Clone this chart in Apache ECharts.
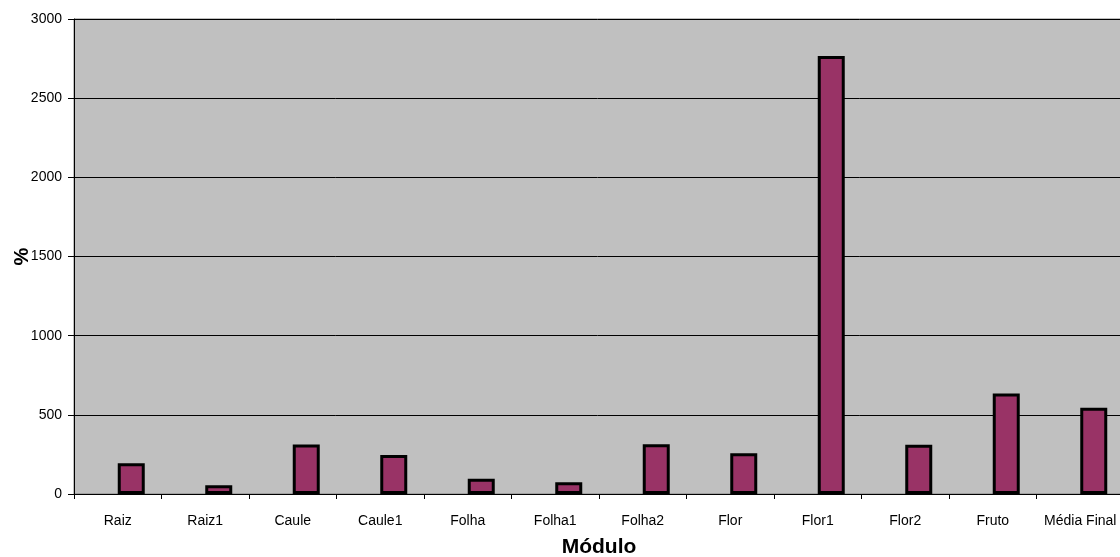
<!DOCTYPE html>
<html>
<head>
<meta charset="utf-8">
<script src="https://cdn.jsdelivr.net/npm/echarts@6/dist/echarts.min.js"></script>
<style>
  html, body { margin: 0; padding: 0; background: #ffffff; overflow: hidden; }
  #chart { width: 1120px; height: 557px; }
</style>
</head>
<body>
<div id="chart"></div>
<script>
// Módulos avaliados (eixo das categorias)
const categories = ['Raiz', 'Raiz1', 'Caule', 'Caule1', 'Folha', 'Folha1', 'Folha2', 'Flor', 'Flor1', 'Flor2', 'Fruto', 'Média Final'];
// Percentual por módulo
const percentValues = [195, 56, 313, 246, 96, 74, 315, 258, 2766, 311, 634, 545];
// Primeira coluna do agrupamento, sem valores
const blankValues = categories.map(() => null);
// Marcas do eixo Y
const yTicks = [0, 500, 1000, 1500, 2000, 2500, 3000];

const chart = echarts.init(document.getElementById('chart'), null, { renderer: 'canvas' });
const font = 'Liberation Sans, Arial, sans-serif';

chart.setOption({
  animation: false,
  backgroundColor: '#ffffff',
  grid: {
    left: 74,
    top: 19,
    height: 475,
    width: 1050,
    outerBoundsMode: 'none',
    containLabel: false,
    show: true,
    backgroundColor: '#c0c0c0',
    borderColor: '#808080',
    borderWidth: 1
  },
  xAxis: {
    type: 'category',
    data: categories,
    boundaryGap: true,
    name: 'Módulo',
    nameLocation: 'middle',
    nameGap: 43,
    nameMoveOverlap: false,
    nameTextStyle: { fontFamily: font, fontSize: 21, fontWeight: 'bold', color: '#000' },
    axisLine: { lineStyle: { color: '#000', width: 1 } },
    axisTick: { show: true, alignWithLabel: false, length: 5, lineStyle: { color: '#000' } },
    axisLabel: { fontFamily: font, fontSize: 14, color: '#000', margin: 20, interval: 0 },
    splitLine: { show: false }
  },
  yAxis: {
    type: 'value',
    min: yTicks[0],
    max: yTicks[yTicks.length - 1],
    interval: 500,
    name: '%',
    nameLocation: 'middle',
    nameGap: 42,
    nameMoveOverlap: false,
    nameRotate: 90,
    nameTextStyle: { fontFamily: font, fontSize: 20, fontWeight: 'bold', color: '#000' },
    axisLine: { show: true, lineStyle: { color: '#000', width: 1 } },
    axisTick: { show: true, length: 6, lineStyle: { color: '#000' } },
    axisLabel: { fontFamily: font, fontSize: 14, color: '#000', margin: 12, formatter: (v) => String(v) },
    splitLine: { show: true, lineStyle: { color: '#000', width: 1 } }
  },
  series: [
    {
      name: 'vazio',
      type: 'bar',
      data: blankValues,
      barWidth: 27,
      barGap: '0%',
      silent: true
    },
    {
      name: '%',
      type: 'bar',
      data: percentValues,
      barWidth: 27,
      barGap: '0%',
      itemStyle: { color: '#993366', borderColor: '#000000', borderWidth: 3 }
    }
  ]
});
</script>
</body>
</html>
